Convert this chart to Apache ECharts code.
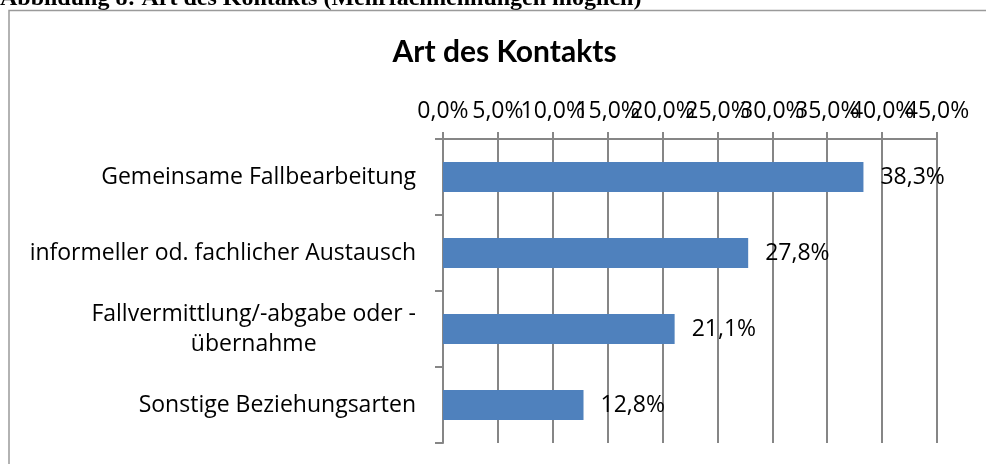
<!DOCTYPE html>
<html>
<head>
<meta charset="utf-8">
<script src="https://cdn.jsdelivr.net/npm/echarts@6/dist/echarts.min.js"></script>
<style>
  html, body { margin: 0; padding: 0; background: #fff; }
  #chart { width: 986px; height: 464px; }
</style>
</head>
<body>
<div id="chart"></div>
<script>
const categories = [
  'Gemeinsame Fallbearbeitung',
  'informeller od. fachlicher Austausch',
  'Fallvermittlung/-abgabe oder -\nübernahme',
  'Sonstige Beziehungsarten'
];
const shares = [38.3, 27.8, 21.1, 12.8];
const axisMin = 0;
const axisMax = 45;
const axisStep = 5;

const GRAY = '#868686';
const LABEL_FONT = '"Open Sans", "Noto Sans", sans-serif';

function pct(v) {
  return v.toFixed(1).replace('.', ',') + '%';
}

const chart = echarts.init(document.getElementById('chart'));

const tickLabelStyle = {
  margin: 16,
  color: '#000',
  fontSize: 23,
  fontFamily: LABEL_FONT,
  hideOverlap: false
};

const option = {
  animation: false,
  graphic: [
    {
      type: 'text',
      x: 0,
      y: 11,
      style: {
        text: 'Abbildung 8: Art des Kontakts (Mehrfachnennungen möglich)',
        font: 'bold 24px "Liberation Serif", serif',
        fill: '#000',
        textVerticalAlign: 'bottom'
      }
    },
    {
      type: 'rect',
      shape: { x: 9, y: 10.5, width: 1000, height: 500 },
      style: { fill: 'none', stroke: '#9a9a9a', lineWidth: 1.5 }
    },
    {
      type: 'text',
      x: 504.5,
      y: 52,
      style: {
        text: 'Art des Kontakts',
        font: 'bold 30px Lato, sans-serif',
        fill: '#000',
        textAlign: 'center',
        textVerticalAlign: 'middle'
      }
    }
  ],
  grid: {
    left: 443,
    right: 49,
    top: 139,
    bottom: 21,
    outerBoundsMode: 'none'
  },
  xAxis: [
    {
      type: 'value',
      position: 'top',
      min: axisMin,
      max: axisMax,
      interval: axisStep,
      axisLine: { show: true, lineStyle: { color: GRAY, width: 2 } },
      axisTick: { show: true, length: 7, lineStyle: { color: GRAY, width: 2 } },
      splitLine: { show: true, lineStyle: { color: GRAY, width: 2 } },
      axisLabel: Object.assign({}, tickLabelStyle, {
        // the max label goes on the overlay axis below, otherwise echarts drops one of the overlapping pair
        formatter: v => (v === axisMax ? '' : pct(v))
      })
    },
    {
      // overlay axis on the same scale, only carries the 45,0% label
      type: 'value',
      position: 'top',
      min: axisMin,
      max: axisMax,
      interval: axisStep,
      axisLine: { show: false },
      axisTick: { show: false },
      splitLine: { show: false },
      axisLabel: Object.assign({}, tickLabelStyle, {
        showMaxLabel: true,
        formatter: v => (v === axisMax ? pct(v) : '')
      })
    }
  ],
  yAxis: {
    type: 'category',
    inverse: true,
    data: categories,
    axisLine: { show: true, lineStyle: { color: GRAY, width: 2 } },
    axisTick: { show: true, length: 8, lineStyle: { color: GRAY, width: 2 } },
    splitLine: { show: false },
    axisLabel: {
      margin: 27,
      color: '#000',
      fontSize: 23,
      fontFamily: LABEL_FONT,
      formatter: v => v.split('\n').map(line => '{c|' + line + '}').join('\n'),
      rich: {
        c: {
          align: 'center',
          fontSize: 23,
          fontFamily: LABEL_FONT,
          color: '#000',
          lineHeight: 30
        }
      }
    }
  },
  series: [
    {
      type: 'bar',
      xAxisIndex: 0,
      data: shares,
      barWidth: 30,
      itemStyle: { color: '#4f81bd' },
      label: {
        show: true,
        position: 'right',
        distance: 17,
        color: '#000',
        fontSize: 23,
        fontFamily: LABEL_FONT,
        formatter: p => pct(p.value)
      }
    }
  ]
};

chart.setOption(option);
</script>
</body>
</html>
